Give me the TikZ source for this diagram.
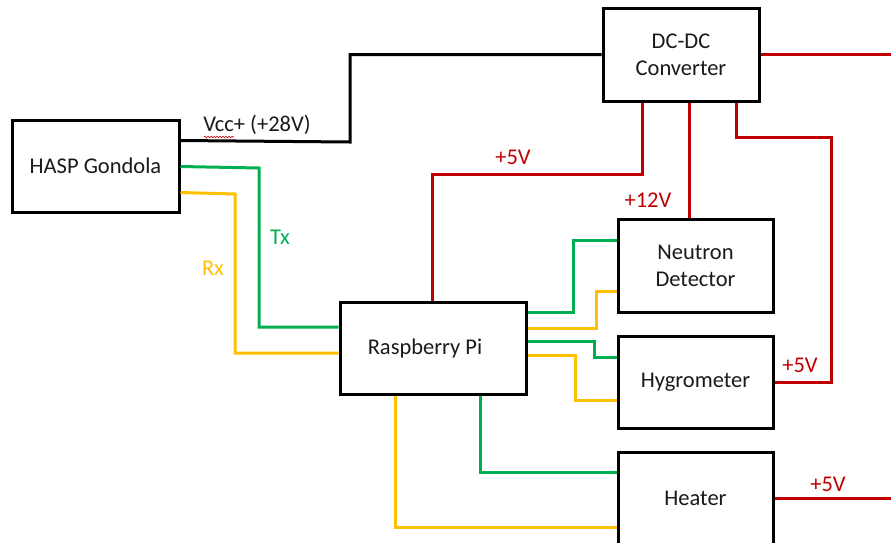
\documentclass[tikz,border=0pt]{standalone}
\usepackage{fontspec}
\setmainfont{Carlito}
\usetikzlibrary{decorations.pathmorphing}
\definecolor{wred}{HTML}{C00000}
\definecolor{wgreen}{HTML}{00B050}
\definecolor{wyellow}{HTML}{FFC000}
\definecolor{wtext}{HTML}{1A1A1A}
\begin{document}
\begin{tikzpicture}[x=1pt,y=-1pt,
  box/.style={draw=black,line width=3pt,fill=white,rectangle,inner sep=0pt,
    minimum width=#1,minimum height=92pt,align=center,text=wtext,
    font=\fontsize{22.5}{27}\selectfont},
  box/.default=155pt,
  blk/.style={draw=black,line width=3pt},
  rd/.style={draw=wred,line width=3pt},
  gr/.style={draw=wgreen,line width=3pt},
  yl/.style={draw=wyellow,line width=3pt},
  lbl/.style={inner sep=0pt,font=\fontsize{22.5}{27}\selectfont}]
\useasboundingbox (0,0) rectangle (891,542);
\node[box=167pt] (hasp) at (95.5,166) {HASP Gondola};
\node[box=156pt,minimum height=93pt] (dc) at (681,54.5) {DC-DC\\Converter};
\node[box=186pt,label={[lbl,text=wtext,xshift=-8pt]center:Raspberry Pi}] (pi) at (433,348) {};
\node[box,minimum height=93pt] (neu) at (695.5,265.5) {Neutron\\Detector};
\node[box] (hyg) at (695.5,382) {Hygrometer};
\node[box,minimum height=100pt,label={[lbl,text=wtext,yshift=4pt]center:Heater}] (heat) at (695.5,502) {};
\coordinate (dcout) at (893,54.5);
\coordinate (heatout) at (893,498);
% power
\draw[blk] ([yshift=-22pt]hasp.north east) -- (350,142) -- (350,54.5) -- (dc.west);
\draw[rd] (dc.east) -- (dcout);
\draw[rd] ([xshift=-39pt]dc.south) -- (642,174) -- (432,174) -- ([xshift=-1pt]pi.north);
\draw[rd] ([xshift=8pt]dc.south) -- ([xshift=8pt]dc.south |- neu.north);
\draw[rd] ([xshift=55pt]dc.south) -- (736,137) -- (831,137) -- (831,382) -- (hyg.east);
\draw[rd] ([yshift=4pt]heat.east) -- (heatout);
% HASP <-> Pi
\draw[gr] ([yshift=-48pt]hasp.north east) -- (259,168) -- (259,327) -- ([yshift=21pt]pi.west);
\draw[yl] ([yshift=-74pt]hasp.north east) -- (235,194) -- (235,353) -- ([yshift=-5pt]pi.west);
% Pi <-> devices
\draw[gr] ([yshift=36pt]pi.east) -- (573,312) -- (573,240) -- ([yshift=25.5pt]neu.west);
\draw[yl] ([yshift=20pt]pi.east) -- (596,328) -- (596,291) -- ([yshift=-25.5pt]neu.west);
\draw[gr] ([yshift=7pt]pi.east) -- (594,341) -- (594,357) -- ([yshift=25pt]hyg.west);
\draw[yl] ([yshift=-7pt]pi.east) -- (575,355) -- (575,400) -- ([yshift=-18pt]hyg.west);
\draw[gr] ([xshift=47pt]pi.south) -- (480,472) -- ([yshift=30pt]heat.west);
\draw[yl] ([xshift=-38pt]pi.south) -- (395,527) -- ([yshift=-25pt]heat.west);
% labels
\node[lbl,text=wtext] (vcc) at (257,125) {Vcc+ (+28V)};
\draw[wred,line width=0.6pt,decorate,decoration={snake,amplitude=0.8pt,segment length=3pt}]
  ([xshift=1pt,yshift=-2pt]vcc.south west) -- ([xshift=31pt,yshift=-2pt]vcc.south west);
\node[lbl,text=wgreen] (tx) at (280,237) {Tx};
\node[lbl,text=wyellow] (rx) at (213,268) {Rx};
\node[lbl,text=wred] (v5a) at (513,157) {+5V};
\node[lbl,text=wred] (v12) at (648,200) {+12V};
\node[lbl,text=wred] (v5b) at (800,365) {+5V};
\node[lbl,text=wred] (v5c) at (828,484) {+5V};
\end{tikzpicture}
\end{document}
